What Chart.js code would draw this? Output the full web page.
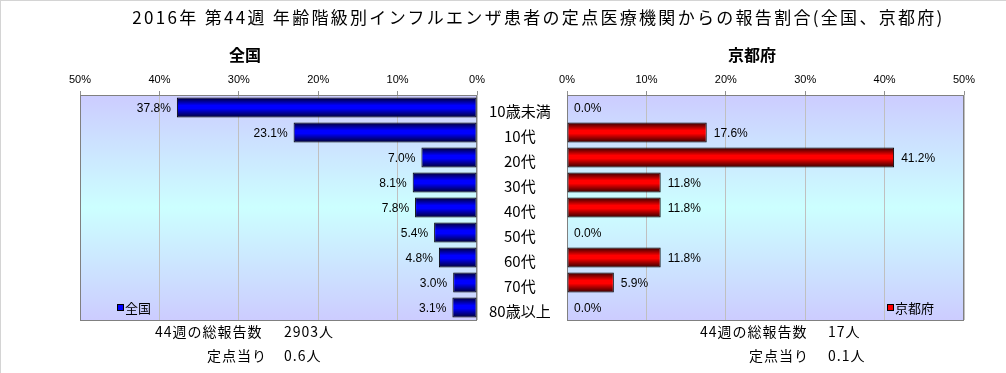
<!DOCTYPE html>
<html lang="ja">
<head>
<meta charset="utf-8">
<script src="https://cdn.jsdelivr.net/npm/chart.js@4.4.1/dist/chart.umd.min.js"></script>
<style>
  body { margin: 0; background: #fff; font-family: "Noto Sans CJK JP", sans-serif; }
  #wrap { position: relative; width: 1006px; height: 373px; overflow: hidden;
          border-top: 1px solid #d4d4d4; border-left: 1px solid #d4d4d4; box-sizing: border-box; }
  canvas { position: absolute; left: 0; top: 0; }
  .txt { position: absolute; white-space: nowrap; color: #000; line-height: 1; }
  .title { top: 7px; left: 0; width: 1075px; text-align: center; font-size: 17px; letter-spacing: 2.3px; }
  .sub { top: 45px; font-size: 16px; font-weight: bold; }
  .foot { font-size: 14px; letter-spacing: 1px; }
  .lg { font-size: 13px; }
  .lg i { display: inline-block; width: 5px; height: 5px; border: 1px solid #000; margin-right: 1px; vertical-align: 2px; }
</style>
</head>
<body>
<div id="wrap">
  <canvas id="natChart" width="1006" height="373"></canvas>
  <canvas id="kyoChart" width="1006" height="373"></canvas>

  <div class="txt title">2016年 第44週 年齢階級別インフルエンザ患者の定点医療機関からの報告割合(全国、京都府)</div>
  <div class="txt sub" style="left:228px">全国</div>
  <div class="txt sub" style="left:727px">京都府</div>

  <div class="txt lg" style="left:116px; top:300px"><i style="background:#0000ff"></i>全国</div>
  <div class="txt lg" style="left:886px; top:300px"><i style="background:#ff0000"></i>京都府</div>

  <div class="txt foot" style="left:154px; top:323px">44週の総報告数</div>
  <div class="txt foot" style="left:283px; top:323px">2903人</div>
  <div class="txt foot" style="left:206px; top:347px">定点当り</div>
  <div class="txt foot" style="left:283px; top:347px">0.6人</div>

  <div class="txt foot" style="left:699px; top:323px">44週の総報告数</div>
  <div class="txt foot" style="left:827px; top:323px">17人</div>
  <div class="txt foot" style="left:748px; top:347px">定点当り</div>
  <div class="txt foot" style="left:827px; top:347px">0.1人</div>
</div>

<script>
const categories = ["10歳未満", "10代", "20代", "30代", "40代", "50代", "60代", "70代", "80歳以上"];
const nationalPct = [37.8, 23.1, 7.0, 8.1, 7.8, 5.4, 4.8, 3.0, 3.1];
const kyotoPct    = [0.0, 17.6, 41.2, 11.8, 11.8, 0.0, 11.8, 5.9, 0.0];
const axisMax  = 50;
const axisStep = 10;

// plot area sits at the same place on both canvases
const PLOT_TOP = 94, PLOT_BOTTOM = 319;
const LABEL_FONT = "12px 'Liberation Sans', Arial, sans-serif";

// vertical "tube" shading for each bar
function tubeFill(dark, bright) {
  return (ctx) => {
    const chart = ctx.chart;
    if (!chart.chartArea || ctx.dataIndex === undefined) return bright;
    const y = chart.scales.y.getPixelForValue(ctx.dataIndex);
    const h = chart.chartArea.height / categories.length * 0.8;
    const g = chart.ctx.createLinearGradient(0, y - h / 2, 0, y + h / 2);
    g.addColorStop(0, dark);
    g.addColorStop(0.4, bright);
    g.addColorStop(0.55, bright);
    g.addColorStop(1, dark);
    return g;
  };
}

// plot background gradient + grey frame
const plotBg = {
  id: "plotBg",
  beforeDraw(chart) {
    const { ctx, chartArea: a } = chart;
    const g = ctx.createLinearGradient(0, a.top, 0, a.bottom);
    g.addColorStop(0, "#ccccff");
    g.addColorStop(0.5, "#ccffff");
    g.addColorStop(1, "#ccccff");
    ctx.save();
    ctx.fillStyle = g;
    ctx.fillRect(a.left, a.top, a.width, a.height);
    ctx.restore();
  },
  beforeDatasetsDraw(chart) {
    const { ctx, chartArea: a } = chart;
    ctx.save();
    ctx.strokeStyle = "#808080";
    ctx.lineWidth = 1;
    ctx.strokeRect(Math.round(a.left) + 0.5, Math.round(a.top) + 0.5,
                   Math.round(a.width) - 1, Math.round(a.height));
    ctx.restore();
  }
};

// value labels at the bar ends
const valueLabels = {
  id: "valueLabels",
  afterDatasetsDraw(chart, args, opts) {
    const { ctx } = chart;
    const meta = chart.getDatasetMeta(0);
    const data = chart.data.datasets[0].data;
    ctx.save();
    ctx.font = LABEL_FONT;
    ctx.fillStyle = "#000";
    ctx.textBaseline = "middle";
    meta.data.forEach((bar, i) => {
      const label = data[i].toFixed(1) + "%";
      if (opts.side === "left") {
        ctx.textAlign = "right";
        ctx.fillText(label, bar.x - 6, bar.y + 1);
      } else {
        ctx.textAlign = "left";
        ctx.fillText(label, bar.x + 7, bar.y + 1);
      }
    });
    ctx.restore();
  }
};

function xAxis(reverse) {
  return {
    position: "top",
    min: 0,
    max: axisMax,
    reverse: reverse,
    afterFit: (s) => { s.height = 34; },
    ticks: {
      stepSize: axisStep,
      padding: 4,
      color: "#000",
      font: { family: "'Liberation Sans', Arial, sans-serif", size: 11 },
      callback: (v) => v + "%"
    },
    grid: { color: "#c0c0c0", tickColor: "#909090", tickLength: 4 },
    border: { display: false }
  };
}

function makeChart(id, values, side, dark, bright, pad, yAxis) {
  return new Chart(document.getElementById(id), {
    type: "bar",
    data: {
      labels: categories,
      datasets: [{
        data: values,
        backgroundColor: tubeFill(dark, bright),
        borderColor: "#000",
        borderWidth: 1,
        borderSkipped: false,
        barPercentage: 0.8,
        categoryPercentage: 1.0
      }]
    },
    options: {
      indexAxis: "y",
      responsive: false,
      animation: false,
      layout: { padding: pad },
      plugins: {
        legend: { display: false },
        tooltip: { enabled: false },
        valueLabels: { side: side }
      },
      scales: { x: xAxis(side === "left"), y: yAxis }
    },
    plugins: [plotBg, valueLabels]
  });
}

makeChart("natChart", nationalPct, "left", "#000030", "#0000ff",
  { top: 60, bottom: 373 - PLOT_BOTTOM, left: 79, right: 1006 - 566 },
  {
    position: "right",
    afterFit: (s) => { s.width = 90; },
    grid: { display: false, drawTicks: false },
    border: { display: false },
    ticks: {
      padding: 12,
      crossAlign: "center",
      labelOffset: 4,
      color: "#000",
      font: { family: "'Noto Sans CJK JP', sans-serif", size: 15 }
    }
  });

makeChart("kyoChart", kyotoPct, "right", "#300000", "#ff0000",
  { top: 60, bottom: 373 - PLOT_BOTTOM, left: 566, right: 1006 - 963 },
  { display: false });
</script>
</body>
</html>
